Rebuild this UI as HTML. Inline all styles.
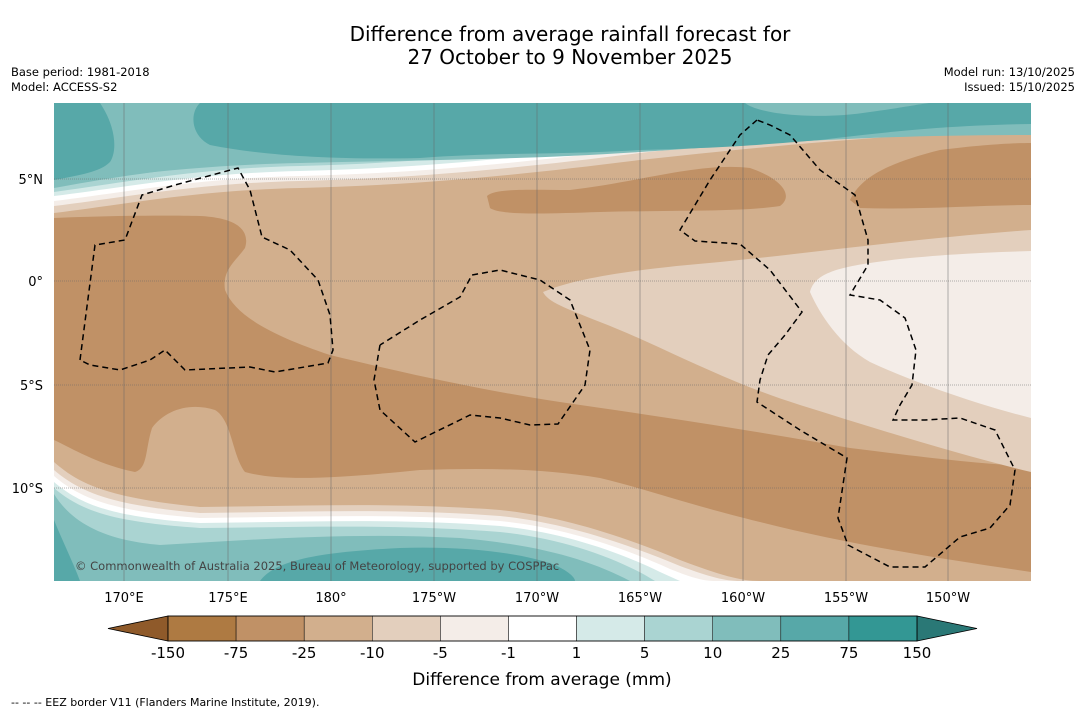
<!DOCTYPE html>
<html><head><meta charset="utf-8"><style>
body{margin:0;background:#fff;font-family:"Liberation Sans","DejaVu Sans",sans-serif}
svg text{font-family:"DejaVu Sans","Liberation Sans",sans-serif}
</style></head><body>
<svg id="chart" width="1085" height="713" viewBox="0 0 1085 713" xmlns="http://www.w3.org/2000/svg">
<text x="570" y="41" font-size="20" text-anchor="middle">Difference from average rainfall forecast for</text>
<text x="570" y="64" font-size="20" text-anchor="middle">27 October to 9 November 2025</text>
<text x="11" y="76" font-size="11.5">Base period: 1981-2018</text>
<text x="11" y="91" font-size="11.5">Model: ACCESS-S2</text>
<text x="1075" y="76" font-size="11.5" text-anchor="end">Model run: 13/10/2025</text>
<text x="1075" y="91" font-size="11.5" text-anchor="end">Issued: 15/10/2025</text>
<defs><clipPath id="mc"><rect x="54" y="103" width="977" height="478"/></clipPath></defs>
<g clip-path="url(#mc)">
<rect x="54" y="103" width="977" height="478" fill="#d2af8d"/>
<path fill="#e3cfbd" d="M54,213 C120,205 200,190 300,188 C420,185 520,175 640,160 C750,148 850,138 1031,128 L1031,103 L54,103Z"/>
<path fill="#f4ede8" d="M54,206 C120,198 200,183 300,181 C420,178 520,168 640,153 C750,141 850,132 1031,122 L1031,103 L54,103Z"/>
<path fill="#ffffff" d="M54,201 C120,193 200,178 300,176 C420,173 520,163 640,148 C750,136 850,128 1031,118 L1031,103 L54,103Z"/>
<path fill="#d5eae8" d="M54,196 C120,188 200,173 300,171 C420,168 520,158 640,143 C750,131 850,124 1031,114 L1031,103 L54,103Z"/>
<path fill="#aad4d2" d="M54,192 C120,183 200,168 300,166 C420,163 520,152 640,138 C750,126 850,120 1031,110 L1031,103 L54,103Z"/>
<path fill="#80bdbb" d="M54,188 C120,176 200,163 300,160 C420,156 520,146 640,132 C750,120 850,116 1031,106 L1031,103 L54,103Z"/>
<path fill="#80bdbb" d="M54,185 C120,175 200,165 300,163 C420,160 520,160 640,152 C750,145 850,135 1031,135 L1031,103 L54,103Z"/>
<path fill="#57a8a8" d="M54,180 C80,175 100,172 110,162 C118,150 115,125 100,103 L54,103Z"/>
<path fill="#57a8a8" d="M200,103 C190,112 190,135 210,145 C260,155 330,160 420,158 C500,152 560,155 640,150 C720,148 760,145 820,140 C900,130 960,125 1031,124 L1031,103 Z"/>
<path fill="#80bdbb" d="M745,103 C760,115 820,120 870,112 C900,108 920,104 930,103Z"/>
<path fill="#c09166" d="M54,218 C100,216 160,215 200,216 C240,218 250,232 245,248 C235,262 222,270 225,290 C235,315 270,335 330,355 C400,372 480,390 560,402 C650,415 750,430 850,448 C930,458 990,465 1031,466 L1031,572 C950,560 850,545 760,522 C690,505 650,490 600,478 C540,468 480,468 420,470 C340,478 280,482 245,472 C232,455 232,420 215,410 C190,402 165,410 152,428 C145,450 148,468 135,472 C100,465 75,450 54,440Z"/>
<path fill="#c09166" d="M487,196 C495,188 530,190 570,190 C640,182 700,162 750,168 C780,178 795,195 780,206 C740,212 680,210 600,212 C540,214 500,215 490,208Z"/>
<path fill="#c09166" d="M850,200 C860,180 880,165 940,150 C980,145 1010,143 1031,143 L1031,205 C980,205 920,210 860,208Z"/>
<path fill="#e3cfbd" d="M543,292 C580,276 650,268 720,262 C820,252 920,238 1031,230 L1031,472 C960,455 880,430 800,405 C720,380 660,345 600,322 C565,308 548,302 543,292Z"/>
<path fill="#f4ede8" d="M810,292 C815,272 840,266 900,259 C960,253 1000,252 1031,251 L1031,418 C980,405 920,385 870,362 C840,345 820,315 810,292Z"/>
<path fill="#e3cfbd" d="M54,462 C80,485 110,498 200,507 C300,506 400,502 500,510 C560,516 620,535 680,560 C720,575 740,581 760,581 L54,581Z"/>
<path fill="#f4ede8" d="M54,470 C80,492 110,505 200,513 C300,512 400,508 500,516 C560,522 620,541 680,566 C710,577 725,581 740,581 L54,581Z"/>
<path fill="#ffffff" d="M54,476 C80,498 110,511 200,518 C300,517 400,513 500,521 C560,527 620,546 670,569 C695,579 705,581 715,581 L54,581Z"/>
<path fill="#d5eae8" d="M54,482 C80,504 110,517 200,523 C300,522 400,518 500,526 C560,532 615,550 660,572 L680,581 L54,581Z"/>
<path fill="#aad4d2" d="M54,488 C80,510 110,522 200,528 C300,527 400,524 500,532 C560,538 610,556 645,575 L655,581 L54,581Z"/>
<path fill="#80bdbb" d="M54,494 C70,520 100,540 160,545 C250,540 350,532 460,538 C540,545 590,560 630,581 L54,581Z"/>
<path fill="#57a8a8" d="M260,581 C275,560 320,552 400,548 C460,546 520,552 555,565 C570,572 575,578 575,581Z"/>
<path fill="#57a8a8" d="M54,520 C62,540 72,560 80,581 L54,581Z"/>
<g stroke="#666" stroke-width="0.5">
<line x1="124" y1="103" x2="124" y2="581"/><line x1="228" y1="103" x2="228" y2="581"/><line x1="331" y1="103" x2="331" y2="581"/><line x1="434" y1="103" x2="434" y2="581"/><line x1="537" y1="103" x2="537" y2="581"/><line x1="640" y1="103" x2="640" y2="581"/><line x1="743" y1="103" x2="743" y2="581"/><line x1="846" y1="103" x2="846" y2="581"/><line x1="948" y1="103" x2="948" y2="581"/>
<g stroke-dasharray="1,1"><line x1="54" y1="179" x2="1031" y2="179"/><line x1="54" y1="281" x2="1031" y2="281"/><line x1="54" y1="385" x2="1031" y2="385"/><line x1="54" y1="488" x2="1031" y2="488"/></g>
</g>
<g fill="none" stroke="#000" stroke-width="1.5" stroke-dasharray="6,4">
<polyline points="80,360 95,245 125,240 142,195 175,185 238,168 250,190 262,237 290,250 318,280 330,315 333,350 328,363 275,372 250,367 185,370 165,350 150,360 120,370 90,365 80,360"/>
<polyline points="380,345 374,380 380,410 415,442 470,415 500,418 530,425 558,424 585,385 590,350 570,300 540,280 500,270 472,275 460,297 420,320 380,345"/>
<polyline points="757,120 740,135 710,180 680,230 695,241 740,244 770,270 802,312 785,335 768,355 760,380 757,402 800,430 847,458 838,518 848,545 890,567 925,567 960,537 990,528 1010,505 1015,470 995,430 960,418 925,420 893,420 900,405 912,385 916,350 905,318 880,300 850,295 868,265 868,240 855,195 820,170 790,135 770,125 757,120"/>
</g>
<text x="75" y="570" font-size="11.5" fill="#444">© Commonwealth of Australia 2025, Bureau of Meteorology, supported by COSPPac</text>
</g>
<g font-size="13" text-anchor="end">
<text x="43" y="184">5°N</text><text x="43" y="286">0°</text><text x="43" y="390">5°S</text><text x="43" y="493">10°S</text>
</g>
<g font-size="13" text-anchor="middle">
<text x="124" y="602">170°E</text><text x="228" y="602">175°E</text><text x="331" y="602">180°</text><text x="434" y="602">175°W</text><text x="537" y="602">170°W</text><text x="640" y="602">165°W</text><text x="743" y="602">160°W</text><text x="846" y="602">155°W</text><text x="948" y="602">150°W</text>
</g>
<g id="cbar"></g>
<text x="542" y="685" font-size="17" text-anchor="middle">Difference from average (mm)</text>
<text x="11" y="706" font-size="11">--  --  -- EEZ border V11 (Flanders Marine Institute, 2019).</text>
</svg>
<script>
const levelLabels = ["-150","-75","-25","-10","-5","-1","1","5","10","25","75","150"];
const binColors = ["#ae7a42","#c09166","#d2af8d","#e3cfbd","#f4ede8","#ffffff","#d5eae8","#aad4d2","#80bdbb","#57a8a8","#339794"];
const extendColors = ["#8f5a2a","#2a7876"];
const NS="http://www.w3.org/2000/svg";
const g=document.getElementById('cbar');
const x0=168,x1=917,y0=616,h=25,w=(x1-x0)/binColors.length;
function mk(t,a){const e=document.createElementNS(NS,t);for(const k in a)e.setAttribute(k,a[k]);g.appendChild(e);return e;}
const lt=mk('polygon',{points:`108,${y0+h/2} ${x0},${y0} ${x0},${y0+h}`,fill:extendColors[0],stroke:'#000','stroke-width':0.8});


const rt=mk('polygon',{points:`977,${y0+h/2} ${x1},${y0} ${x1},${y0+h}`,fill:extendColors[1],stroke:'#000','stroke-width':0.8});


binColors.forEach((c,i)=>{
 const r=mk('rect',{x:x0+i*w,y:y0,width:w,height:h,fill:c,stroke:'#000','stroke-width':0.5});
 
 
});
mk('rect',{x:x0,y:y0,width:x1-x0,height:h,fill:'none',stroke:'#000','stroke-width':0.8});
levelLabels.forEach((l,i)=>{
 const t=mk('text',{x:x0+i*w,y:658,'font-size':15,'text-anchor':'middle'});
 t.textContent=l;
 
 
});
</script>
</body></html>
